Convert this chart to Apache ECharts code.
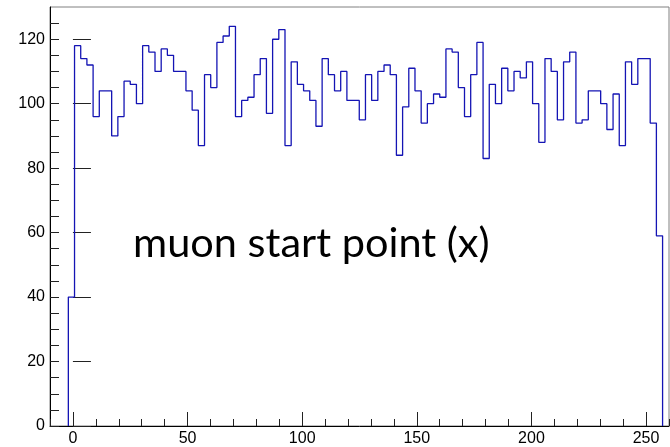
<!DOCTYPE html>
<html><head><meta charset="utf-8">
<script src="https://cdn.jsdelivr.net/npm/echarts@6/dist/echarts.min.js"></script>
<style>html,body{margin:0;padding:0;background:#fff}#c{width:670px;height:447px}</style>
</head><body><div id="c"></div>
<script>
// histogram bin contents (96 bins)
const counts = [40,118,114,112,96,104,104,90,96,107,106,100,118,116,110,117,115,110,110,104,
  98,87,109,105,119,121,124,96,101,102,109,114,97,120,123,87,113,106,104,101,
  93,114,109,104,110,101,101,95,109,101,110,112,109,84,99,111,104,94,100,103,
  102,117,116,105,96,109,119,83,106,100,111,104,110,108,113,100,88,114,110,95,
  113,116,94,95,104,104,100,92,103,87,113,106,114,114,94,59];
const binLow = -2;
const binWidth = 2.7;
const xMajorTicks = [0,50,100,150,200,250];
const xMinorTicks = [-10,0,10,20,30,40,50,60,70,80,90,100,110,120,130,140,150,160,170,180,190,200,210,220,230,240,250,260];
const yMajorTicks = [0,20,40,60,80,100,120];
const yMinorTicks = [0,5,10,15,20,25,30,35,40,45,50,55,60,65,70,75,80,85,90,95,100,105,110,115,120,125];
const labelText = 'muon start point (x)';

const outline = [[binLow, 0]];
counts.forEach((v, i) => {
  const lo = binLow + i * binWidth;
  outline.push([lo, v], [lo + binWidth, v]);
});
outline.push([binLow + counts.length * binWidth, 0]);

const gridBox = {left: 50, right: 1, top: 7, bottom: 21};
const tickColor = '#222';
const chart = echarts.init(document.getElementById('c'), null, {renderer: 'canvas'});
chart.setOption({
  animation: false,
  grid: [
    Object.assign({show: true, borderColor: '#808080', borderWidth: 1, backgroundColor: 'transparent'}, gridBox),
    Object.assign({show: false}, gridBox)
  ],
  xAxis: [
    {type: 'value', gridIndex: 0, min: -10, max: 260, position: 'bottom',
     axisLine: {show: true, onZero: false, lineStyle: {color: '#000', width: 1}},
     axisTick: {show: true, inside: true, length: 7, customValues: xMinorTicks, lineStyle: {color: tickColor}},
     axisLabel: {customValues: xMajorTicks, fontFamily: 'Liberation Sans', fontSize: 16, color: '#000', margin: 5},
     splitLine: {show: false}},
    {type: 'value', gridIndex: 1, min: -10, max: 260, position: 'bottom',
     axisLine: {show: false},
     axisTick: {show: true, inside: true, length: 14, customValues: xMajorTicks, lineStyle: {color: tickColor}},
     axisLabel: {show: false}, splitLine: {show: false}}
  ],
  yAxis: [
    {type: 'value', gridIndex: 0, min: 0, max: 130, position: 'left',
     axisLine: {show: true, onZero: false, lineStyle: {color: '#000', width: 1}},
     axisTick: {show: true, inside: true, length: 9, customValues: yMinorTicks, lineStyle: {color: tickColor}},
     axisLabel: {customValues: yMajorTicks, fontFamily: 'Liberation Sans', fontSize: 16, color: '#000', margin: 5},
     splitLine: {show: false}},
    {type: 'value', gridIndex: 1, min: 0, max: 130, position: 'left',
     axisLine: {show: false},
     axisTick: {show: true, inside: true, length: 18, customValues: yMajorTicks, lineStyle: {color: tickColor}},
     axisLabel: {show: false}, splitLine: {show: false}}
  ],
  series: [{
    type: 'line', xAxisIndex: 0, yAxisIndex: 0, data: outline,
    showSymbol: false, symbol: 'none', smooth: false,
    lineStyle: {color: '#1414b4', width: 1.3}, z: 5
  }],
  graphic: [{
    type: 'text', left: 133, top: 223, z: 10,
    style: {text: labelText, font: '41.5px Lato', fill: '#000'}
  }]
});
</script>
</body></html>
